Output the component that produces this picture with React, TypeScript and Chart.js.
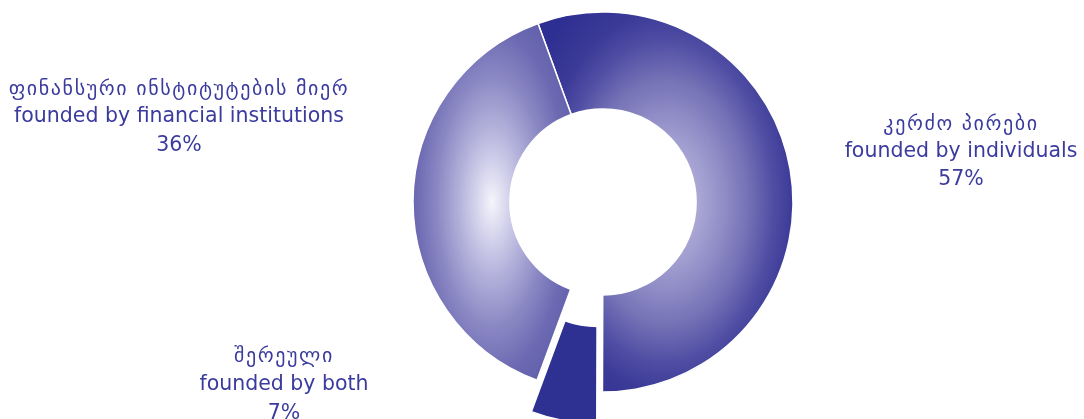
import React, { useEffect, useRef } from 'react';
import { Chart, registerables, ArcElement } from 'chart.js';

Chart.register(...registerables);

// ---- data ----
const categories = ['კერძო პირები', 'შერეული', 'ფინანსური ინსტიტუტების მიერ'];
const englishLabels = ['founded by individuals', 'founded by both', 'founded by financial institutions'];
const shareLabels = ['57%', '7%', '36%'];
const sliceValues = [55.6, 5.6, 38.8];

// ---- styling / layout ----
const ROTATION = -20; // degrees, start of first slice
const OUTER_R = 190;
const CUTOUT = '49%';
const EXPLODE_INDEX = 1;
const EXPLODE_PX = 32;
const TEXT_COLOR = '#3b3b9f';
const SOLID = '#2e3192';

const GRADIENTS: Record<number, [number, string][]> = {
  0: [[0, '#d4d3ec'], [0.25, '#aba8d6'], [0.45, '#918ec7'], [0.65, '#7471b6'], [0.85, '#4f4da3'], [1.0, '#3b3a97'], [1.25, '#2e2f92']],
  2: [[0, '#f5f5fb'], [0.15, '#dddcf0'], [0.4, '#b6b4dc'], [0.7, '#8a88c3'], [0.96, '#6d6ab3'], [1.25, '#5e5ba9']],
};

const LABEL_LAYOUT = [
  { x: 961, y: [130, 157, 185] },
  { x: 284, y: [362, 390, 419] },
  { x: 179, y: [95, 122, 151] },
];

const patternCache: Record<string, CanvasPattern | string> = {};

function sliceFill(chart: any, i: number): CanvasPattern | string {
  const stops = GRADIENTS[i];
  const area = chart.chartArea;
  if (!stops || !area) return SOLID;
  const cx = (area.left + area.right) / 2;
  const cy = (area.top + area.bottom) / 2;
  const r1 = OUTER_R;
  const r0 = OUTER_R * parseFloat(CUTOUT) / 100;
  const total = sliceValues.reduce((a, b) => a + b, 0);
  let a0 = (ROTATION - 90) * Math.PI / 180;
  for (let k = 0; k < i; k++) a0 += sliceValues[k] / total * Math.PI * 2;
  const a1 = a0 + sliceValues[i] / total * Math.PI * 2;
  const key = `${i}-${cx}-${cy}`;
  if (patternCache[key]) return patternCache[key];
  const pts: number[][] = [];
  for (const r of [r0, r1]) for (const a of [a0, a1]) pts.push([cx + r * Math.cos(a), cy + r * Math.sin(a)]);
  for (let k = -8; k <= 8; k++) {
    const a = k * Math.PI / 2;
    if (a > a0 && a < a1) pts.push([cx + r1 * Math.cos(a), cy + r1 * Math.sin(a)]);
  }
  const xs = pts.map(p => p[0]);
  const ys = pts.map(p => p[1]);
  const minX = Math.min(...xs), maxX = Math.max(...xs), minY = Math.min(...ys), maxY = Math.max(...ys);
  const gx = (minX + maxX) / 2, gy = (minY + maxY) / 2;
  const hw = (maxX - minX) / 2, hh = (maxY - minY) / 2;
  const R = stops[stops.length - 1][0];
  const off = document.createElement('canvas');
  off.width = chart.width;
  off.height = chart.height;
  const c2 = off.getContext('2d')!;
  c2.translate(gx, gy);
  c2.scale(hw * R, hh * R);
  const g = c2.createRadialGradient(0, 0, 0, 0, 0, 1);
  stops.forEach(([t, col]) => g.addColorStop(t / R, col));
  c2.fillStyle = g;
  c2.fillRect(-20, -20, 40, 40);
  const pat = chart.ctx.createPattern(off, 'no-repeat');
  patternCache[key] = pat || SOLID;
  return patternCache[key];
}

const explodePlugin = {
  id: 'explodeSlice',
  afterDatasetUpdate(chart: any) {
    const meta = chart.getDatasetMeta(0);
    const el = meta.data[EXPLODE_INDEX];
    if (!el || el.__exploded) return;
    el.__exploded = true;
    el.draw = function (ctx: CanvasRenderingContext2D) {
      const mid = (this.startAngle + this.endAngle) / 2;
      ctx.save();
      ctx.translate(Math.cos(mid) * EXPLODE_PX, Math.sin(mid) * EXPLODE_PX);
      ArcElement.prototype.draw.call(this, ctx);
      ctx.restore();
    };
  },
};

const labelPlugin = {
  id: 'sliceLabels',
  afterDraw(chart: any) {
    const ctx = chart.ctx as any;
    ctx.save();
    ctx.fillStyle = TEXT_COLOR;
    ctx.textAlign = 'center';
    ctx.textBaseline = 'alphabetic';
    categories.forEach((cat, i) => {
      const pos = LABEL_LAYOUT[i];
      ctx.font = '20px "DejaVu Sans", sans-serif';
      ctx.letterSpacing = '1.6px';
      ctx.fillText(cat, pos.x, pos.y[0]);
      ctx.letterSpacing = '0px';
      ctx.font = '20.5px "DejaVu Sans", sans-serif';
      ctx.fillText(englishLabels[i], pos.x, pos.y[1]);
      ctx.fillText(shareLabels[i], pos.x, pos.y[2]);
    });
    ctx.restore();
  },
};

export default function App() {
  const canvasRef = useRef<HTMLCanvasElement | null>(null);

  useEffect(() => {
    if (!canvasRef.current) return;
    const chart = new Chart(canvasRef.current, {
      type: 'doughnut',
      data: {
        labels: categories,
        datasets: [
          {
            data: sliceValues,
            backgroundColor: (ctx: any) => sliceFill(ctx.chart, ctx.dataIndex),
            borderColor: '#ffffff',
            borderWidth: 1.5,
            hoverOffset: 0,
            clip: false as any,
          },
        ],
      },
      options: {
        responsive: false,
        devicePixelRatio: 1,
        animation: false,
        rotation: ROTATION,
        circumference: 360,
        radius: OUTER_R,
        cutout: CUTOUT,
        layout: { padding: { left: 413, right: 291, top: 12, bottom: 27 } },
        plugins: {
          legend: { display: false },
          tooltip: { enabled: false },
        },
        events: [],
      },
      plugins: [explodePlugin, labelPlugin],
    });
    return () => chart.destroy();
  }, []);

  return (
    <div style={{ position: 'fixed', left: 0, top: 0, width: 1084, height: 419, background: '#ffffff' }}>
      <canvas ref={canvasRef} width={1084} height={419} style={{ display: 'block' }} />
    </div>
  );
}
